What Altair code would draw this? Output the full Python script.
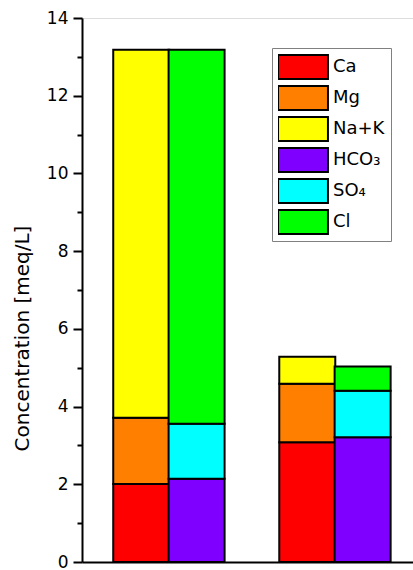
import altair as alt
import pandas as pd

# Ion concentrations (meq/L) for the two water samples
ions = ["Ca", "Mg", "Na+K", "HCO₃", "SO₄", "Cl"]
ion_colors = ["#ff0000", "#ff8000", "#ffff00", "#8000ff", "#00ffff", "#00ff00"]
sample_1 = [2.01, 1.70, 9.47, 2.14, 1.42, 9.62]
sample_2 = [3.08, 1.51, 0.69, 3.21, 1.20, 0.62]
samples = [sample_1, sample_2]

# cations (first three ions) stack in one bar, anions in the bar beside it
rows = []
for s, values in enumerate(samples):
    for i, (ion, v) in enumerate(zip(ions, values)):
        side = 0 if i < 3 else 1
        rows.append({"ion": ion, "value": v, "slot": 1 + 3 * s + side, "rank": i})
df = pd.DataFrame(rows)

FONT = "DejaVu Sans"

# wide rectangular legend swatch; the symbol size keeps the row height small
SWATCH = "M-1.08,-1H3.08V1H-1.08Z"

bars = (
    alt.Chart(df)
    .mark_bar(size=56, stroke="black", strokeWidth=2)
    .encode(
        x=alt.X(
            "slot:Q",
            scale=alt.Scale(domain=[0.02, 5.82], nice=False, zero=False),
            axis=alt.Axis(
                title=None, labels=False, ticks=False, grid=False,
                domainColor="black", domainWidth=2,
            ),
        ),
        y=alt.Y(
            "sum(value):Q",
            stack="zero",
            scale=alt.Scale(domain=[0, 14], nice=False),
            axis=alt.Axis(
                title="Concentration [meq/L]",
                values=list(range(0, 15)),
                labelExpr="datum.value % 2 === 0 ? datum.label : ''",
                grid=False,
                domainColor="black", domainWidth=2,
                tickColor="black", tickWidth=2,
                tickSize={"condition": {"test": "datum.value % 2 === 1", "value": 5}, "value": 9},
                labelFont=FONT, labelFontSize=17, labelColor="black",
                labelPadding=5,
                titleFont=FONT, titleFontSize=20, titleFontWeight="normal",
                titleColor="black", titleAngle=270,
                titleAlign="center", titleBaseline="alphabetic",
                titleX=-54, titleY=320,
            ),
        ),
        color=alt.Color(
            "ion:N",
            scale=alt.Scale(domain=ions, range=ion_colors),
            legend=alt.Legend(
                title=None, orient="none", legendX=190, legendY=30,
                symbolType=SWATCH, symbolSize=576,
                symbolStrokeColor="black", symbolStrokeWidth=2,
                symbolOpacity=1,
                labelFont=FONT, labelFontSize=18, labelColor="black",
                labelOffset=29, rowPadding=5, padding=6, clipHeight=26,
                strokeColor="#808080", fillColor="white",
            ),
        ),
        order=alt.Order("rank:Q", sort="ascending"),
    )
)

chart = (
    bars.properties(
        width=331, height=544,
        padding={"left": 82, "top": 18, "right": 0, "bottom": 8},
        autosize=alt.AutoSizeParams(type="none"),
    )
    .configure_view(stroke=None)
    .configure(background="white")
)

chart.save("out.html", embed_options={"renderer": "svg", "actions": False})
